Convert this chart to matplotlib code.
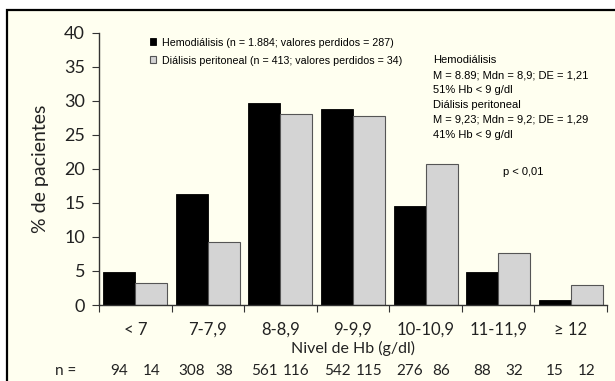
import matplotlib
matplotlib.use("Agg")
import matplotlib.pyplot as plt
import matplotlib.transforms as mtransforms
from matplotlib.patches import Rectangle
import numpy as np

# Hb level categories and % of patients per modality
CATEGORIES = ["< 7", "7-7,9", "8-8,9", "9-9,9", "10-10,9", "11-11,9", "≥ 12"]
HEMO_PCT = [4.9, 16.3, 29.7, 28.8, 14.6, 4.8, 0.8]
PERI_PCT = [3.3, 9.2, 28.0, 27.7, 20.7, 7.6, 2.9]
HEMO_N = [94, 308, 561, 542, 276, 88, 15]
PERI_N = [14, 38, 116, 115, 86, 32, 12]
Y_TICKS = [0, 5, 10, 15, 20, 25, 30, 35, 40]

HEMO_LABEL = "Hemodiálisis (n = 1.884; valores perdidos = 287)"
PERI_LABEL = "Diálisis peritoneal (n = 413; valores perdidos = 34)"
STATS_LINES = ["Hemodiálisis",
               "M = 8.89; Mdn = 8,9; DE = 1,21",
               "51% Hb < 9 g/dl",
               "Diálisis peritoneal",
               "M = 9,23; Mdn = 9,2; DE = 1,29",
               "41% Hb < 9 g/dl"]

CREAM = "#fffff0"
GREY = "#d4d4d4"
INK = "#222222"
MAIN = ["Lato", "DejaVu Sans"]
NARROW = ["Liberation Sans", "DejaVu Sans"]

W, H = 615, 381
fig = plt.figure(figsize=(W / 100, H / 100), dpi=100)
fig.patch.set_facecolor("white")
# cream panel with black frame (bottom/right run off the image)
fig.patches.append(Rectangle((7 / W, -0.1), 1.0, 1.1 - 9.5 / H, transform=fig.transFigure,
                             facecolor=CREAM, edgecolor="black", lw=1.6, zorder=-10))

ax = fig.add_axes([99 / W, 1 - 305 / H, 508 / W, 272.3 / H])
ax.set_facecolor("none")

x = np.arange(len(CATEGORIES))
bw = 0.44
ax.bar(x - bw / 2, HEMO_PCT, bw, color="black", edgecolor="black", lw=0.6,
       label=HEMO_LABEL, zorder=2)
ax.bar(x + bw / 2, PERI_PCT, bw, color=GREY, edgecolor="#555555", lw=0.8,
       label=PERI_LABEL, zorder=2)

ax.set_xlim(-0.5, len(CATEGORIES) - 0.5)
ax.set_ylim(0, 40)
ax.set_yticks(Y_TICKS)
ax.set_yticklabels([str(t) for t in Y_TICKS], family=MAIN, fontsize=13, color=INK)
# group separators as ticks, labels centred on groups
ax.set_xticks(np.arange(-0.5, len(CATEGORIES)), minor=False)
ax.set_xticklabels([])
ax.set_xticks(x, minor=True)
ax.set_xticklabels(CATEGORIES, minor=True, family=MAIN, fontsize=12, color=INK)
ax.tick_params(axis="x", which="minor", length=0, pad=12)
ax.tick_params(axis="x", which="major", length=5, direction="out", color="#333333")
ax.tick_params(axis="y", length=5, direction="out", color="#333333", pad=5)
for s in ["top", "right"]:
    ax.spines[s].set_visible(False)
for s in ["left", "bottom"]:
    ax.spines[s].set_color("#333333")
    ax.spines[s].set_linewidth(1.0)

ax.set_ylabel("% de pacientes", family=MAIN, fontsize=14, color=INK)
ax.yaxis.set_label_coords(-0.098, 0.5)
ax.set_xlabel("Nivel de Hb (g/dl)", family=MAIN, fontsize=11.5, color=INK, labelpad=2)

# n row under the axis
trans = mtransforms.blended_transform_factory(ax.transData, fig.transFigure)
for i in range(len(CATEGORIES)):
    ax.text(x[i] - bw / 2, 1 - 371 / H, str(HEMO_N[i]), transform=trans,
            ha="center", va="center", family=MAIN, fontsize=11, color=INK)
    ax.text(x[i] + bw / 2, 1 - 371 / H, str(PERI_N[i]), transform=trans,
            ha="center", va="center", family=MAIN, fontsize=11, color=INK)
fig.text(66 / W, 1 - 371 / H, "n =", ha="center", va="center", family=MAIN,
         fontsize=11, color=INK)

leg = ax.legend(loc="upper left", bbox_to_anchor=(140 / W, 1 - 28 / H),
                bbox_transform=fig.transFigure, frameon=False,
                handlelength=0.6, handleheight=0.6, handletextpad=0.6,
                labelspacing=0.75, prop={"family": NARROW, "size": 7.7})

for k, line in enumerate(STATS_LINES):
    fig.text(433 / W, 1 - (60 + 15 * k) / H, line, ha="left", va="center",
             family=NARROW, fontsize=8.0)
fig.text(503 / W, 1 - 172 / H, "p < 0,01", ha="left", va="center",
         family=NARROW, fontsize=8.0)

fig.savefig("out.png", dpi=100, facecolor="white")
